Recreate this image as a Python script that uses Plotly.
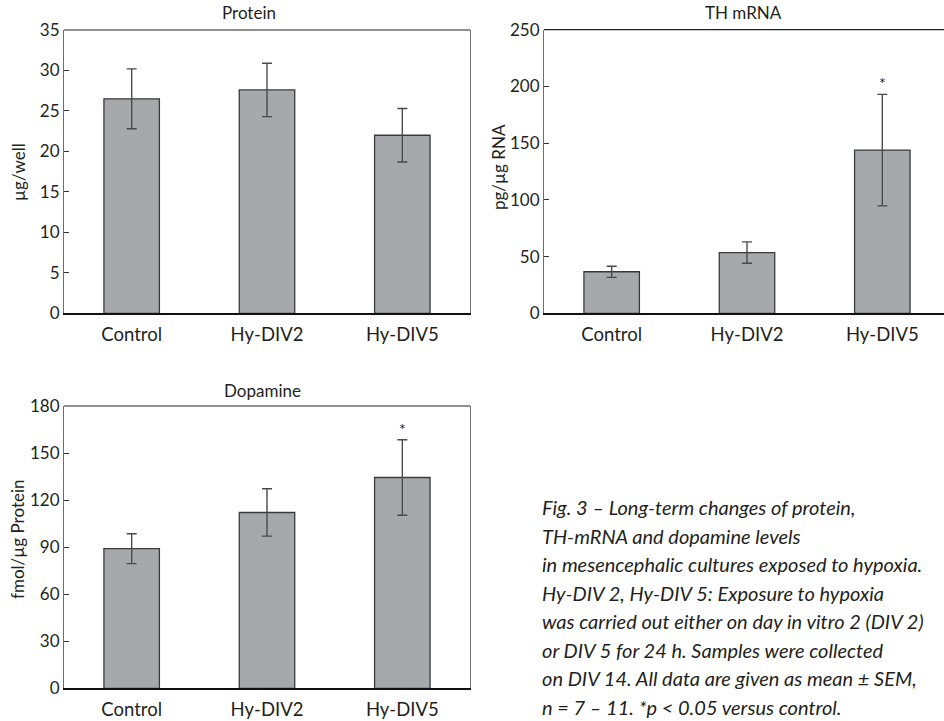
import plotly.graph_objects as go

categories = ["Control", "Hy-DIV2", "Hy-DIV5"]

protein_mean = [26.5, 27.6, 22.0]
protein_sem = [3.7, 3.3, 3.3]

th_mean = [36.6, 53.5, 143.8]
th_sem = [4.9, 9.4, 49.1]

dopamine_mean = [89.0, 112.1, 134.4]
dopamine_sem = [9.5, 15.1, 24.1]

protein_ticks = [0, 5, 10, 15, 20, 25, 30, 35]
th_ticks = [0, 50, 100, 150, 200, 250]
dopamine_ticks = [0, 30, 60, 90, 120, 150, 180]

panel_titles = ["Protein", "TH mRNA", "Dopamine"]
axis_titles = ["µg/well", "pg/µg RNA", "fmol/µg Protein"]
significant = [None, "Hy-DIV5", "Hy-DIV5"]

caption_lines = [
    "Fig. 3 – Long-term changes of protein,",
    "TH-mRNA and dopamine levels",
    "in mesencephalic cultures exposed to hypoxia.",
    "Hy-DIV 2, Hy-DIV 5: Exposure to hypoxia",
    "was carried out either on day in vitro 2 (DIV 2)",
    "or DIV 5 for 24 h. Samples were collected",
    "on DIV 14. All data are given as mean ± SEM,",
    "n = 7 – 11. *p < 0.05 versus control.",
]

W, H = 944, 721
FONT = "Lato, 'Open Sans', sans-serif"
BAR_FILL = "#a7a8ab"
BAR_LINE = "#3a3a3c"
ERR_COLOR = "#4a4a4a"
TEXT = "#231f20"

def px_x(p):
    return p / W

def px_y(p):
    return 1 - p / H

fig = go.Figure()

panels = [
    dict(mean=protein_mean, sem=protein_sem, ticks=protein_ticks, ax="", dom_x=[64, 470], dom_y=[30, 313.3]),
    dict(mean=th_mean, sem=th_sem, ticks=th_ticks, ax="2", dom_x=[544, 950], dom_y=[29.6, 313.3]),
    dict(mean=dopamine_mean, sem=dopamine_sem, ticks=dopamine_ticks, ax="3", dom_x=[64, 470], dom_y=[406, 688.3]),
]

cat_spacing = 135.33
annotations = []
shapes = []
layout_axes = {}

for i, p in enumerate(panels):
    fig.add_trace(go.Bar(
        x=categories, y=p["mean"],
        width=0.41,
        marker=dict(color=BAR_FILL, line=dict(color=BAR_LINE, width=1.3)),
        error_y=dict(type="data", array=p["sem"], visible=True,
                     color=ERR_COLOR, thickness=1.4, width=5),
        xaxis="x" + p["ax"], yaxis="y" + p["ax"],
        showlegend=False,
    ))
    x0, x1 = p["dom_x"]
    x1 = min(x1, W)
    ytop, ybot = p["dom_y"]
    ncat_span = (x1 - x0) / cat_spacing
    xa = dict(
        domain=[px_x(x0), px_x(x1)],
        range=[-0.5, -0.5 + ncat_span],
        showline=True, linecolor="#111111", linewidth=2,
        ticks="", showgrid=False, zeroline=False,
        tickfont=dict(family=FONT, size=18.5, color=TEXT),
        ticklabelstandoff=3,
        anchor="y" + p["ax"],
        automargin=False,
        fixedrange=True,
    )
    ya = dict(
        domain=[px_y(ybot), px_y(ytop)],
        range=[0, p["ticks"][-1]],
        tickvals=p["ticks"],
        showline=True, linecolor="#6d6d6d", linewidth=1.2,
        mirror=(p["ax"] != "2"),
        ticks="inside", ticklen=5, tickwidth=1.2, tickcolor="#333333",
        showgrid=False, zeroline=False,
        tickfont=dict(family=FONT, size=17, color=TEXT),
        anchor="x" + p["ax"],
        automargin=False,
        fixedrange=True,
    )
    layout_axes["xaxis" + p["ax"]] = xa
    layout_axes["yaxis" + p["ax"]] = ya
    # top frame line
    shapes.append(dict(type="line", xref="x" + p["ax"] + " domain", yref="y" + p["ax"] + " domain",
                       x0=0, x1=1, y0=1, y1=1, line=dict(color="#222222", width=1.2)))
    # significance asterisk
    if significant[i] is not None:
        k = categories.index(significant[i])
        annotations.append(dict(
            x=significant[i], y=p["mean"][k] + p["sem"][k],
            xref="x" + p["ax"], yref="y" + p["ax"],
            text="*", showarrow=False, yanchor="bottom", yshift=0,
            font=dict(family=FONT, size=16, color=TEXT),
        ))

# panel titles
title_pos = [(249, 13), (743, 13), (262, 390)]
for t, (tx, ty) in zip(panel_titles, title_pos):
    annotations.append(dict(text=t, x=px_x(tx), y=px_y(ty), xref="paper", yref="paper",
                            showarrow=False, xanchor="center", yanchor="middle",
                            font=dict(family=FONT, size=17, color=TEXT)))

# y-axis titles
ytitle_pos = [(18, 172), (498, 167), (17, 540)]
for t, (tx, ty) in zip(axis_titles, ytitle_pos):
    annotations.append(dict(text=t, x=px_x(tx), y=px_y(ty), xref="paper", yref="paper",
                            showarrow=False, xanchor="center", yanchor="middle", textangle=-90,
                            font=dict(family=FONT, size=17, color=TEXT)))

# caption
for j, line in enumerate(caption_lines):
    annotations.append(dict(text="<i>" + line + "</i>", x=px_x(540), y=px_y(507 + 28.5 * j),
                            xref="paper", yref="paper", showarrow=False,
                            xanchor="left", yanchor="middle",
                            font=dict(family=FONT, size=20, color=TEXT)))

fig.update_layout(
    width=W, height=H,
    margin=dict(l=0, r=0, t=0, b=0, autoexpand=False),
    paper_bgcolor="white", plot_bgcolor="white",
    annotations=annotations, shapes=shapes,
    bargap=0.5,
    **layout_axes,
)

fig.write_html(
    "out.html",
    config={"displayModeBar": False},
    post_script="document.body.style.margin='0';document.body.style.padding='0';document.body.style.overflow='hidden';",
)
